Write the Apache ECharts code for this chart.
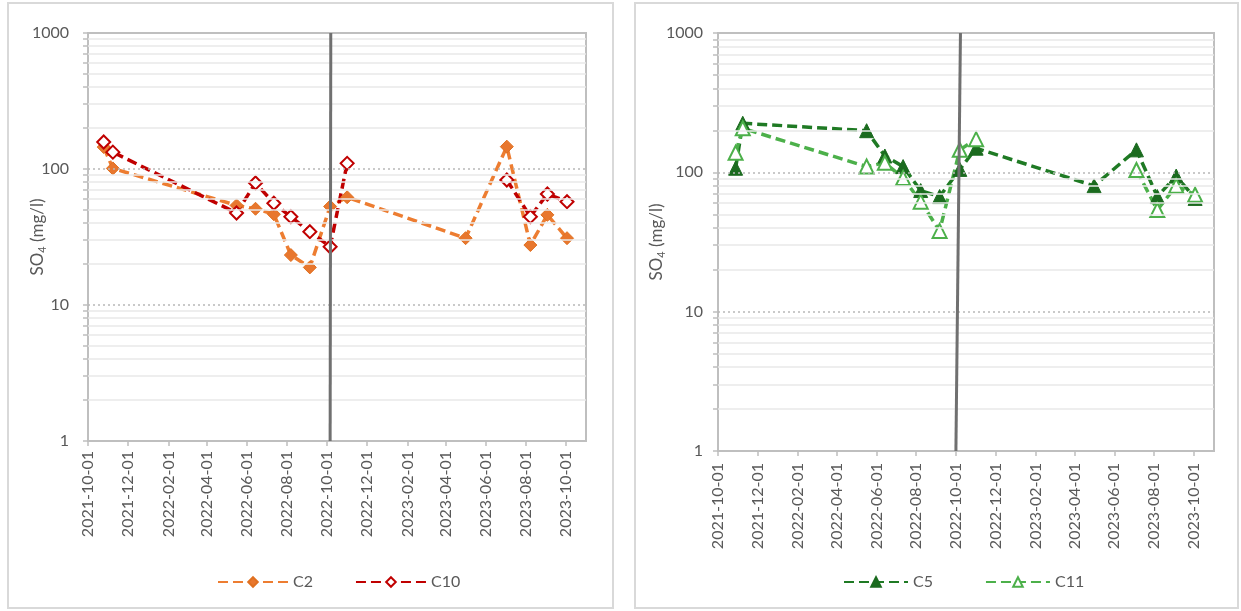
<!DOCTYPE html>
<html>
<head>
<meta charset="utf-8">
<script src="https://cdn.jsdelivr.net/npm/echarts@6/dist/echarts.min.js"></script>
<style>
  html, body { margin: 0; padding: 0; background: #ffffff; }
  #chart { width: 1241px; height: 611px; }
</style>
</head>
<body>
<div id="chart"></div>
<script>
// Sulphate (SO4, mg/l) sampling results, two station groups
const datesA = ['2021-10-25', '2021-11-08', '2022-05-16', '2022-06-14', '2022-07-12', '2022-08-07', '2022-09-05',
                '2022-10-06', '2022-11-01', '2023-05-01', '2023-07-03', '2023-08-08', '2023-09-03', '2023-10-03'];
const c2Values  = [145, 101, 54, 51, 46.5, 23.3, 18.9, 53, 62, 31, 146, 27.6, 46, 31];
const c10Values = [158, 133, 47.5, 79, 56, 44.6, 34.6, 26.8, 110, null, 83, 44.6, 65.5, 57.5];

const datesB = ['2021-10-28', '2021-11-08', '2022-05-17', '2022-06-14', '2022-07-12', '2022-08-08', '2022-09-06',
                '2022-10-07', '2022-11-01', '2023-05-01', '2023-07-05', '2023-08-06', '2023-09-04', '2023-10-03'];
const c5Values  = [107, 225, 199, 131, 110, 74, 67, 105, 149, 80, 145, 67, 94, 65];
const c11Values = [138, 207, 110, 117, 91, 61.6, 38, 145, 173, null, 104, 53.7, 80, 69];

// Axis ticks
const tickDates = ['2021-10-01', '2021-12-01', '2022-02-01', '2022-04-01', '2022-06-01', '2022-08-01', '2022-10-01',
                   '2022-12-01', '2023-02-01', '2023-04-01', '2023-06-01', '2023-08-01', '2023-10-01'];
const dateRange = ['2021-10-01', '2023-11-01'];
const yLabelValues = [1, 10, 100, 1000];
const yTickValues = [1, 2, 3, 4, 5, 6, 7, 8, 9, 10, 20, 30, 40, 50, 60, 70, 80, 90,
                     100, 200, 300, 400, 500, 600, 700, 800, 900, 1000];
const gridMajorValues = [10, 100];
const gridMinorValues = [2, 3, 4, 5, 6, 7, 8, 9, 20, 30, 40, 50, 60, 70, 80, 90,
                         200, 300, 400, 500, 600, 700, 800, 900];

// Divider marking the change on 2022-10 (start, end) in each panel
const dividerA = [['2022-10-07', 1000], ['2022-10-06', 1]];
const dividerB = [['2022-10-08', 1000], ['2022-10-01', 1]];

const FONT = 'Lato, "Noto Sans", sans-serif';
const TEXT = '#595959';
const AXIS_GREY = '#bfbfbf';

function toTime(s) {
  const p = s.split('-').map(Number);
  return new Date(p[0], p[1] - 1, p[2]).getTime();
}
const tickTimes = tickDates.map(toTime);

function fmtDate(v) {
  const d = new Date(v);
  const pad = n => (n < 10 ? '0' : '') + n;
  return d.getFullYear() + '-' + pad(d.getMonth() + 1) + '-' + pad(d.getDate());
}

function pairs(dates, values) {
  return dates.map((d, i) => [toTime(d), values[i]]);
}

function xAxisFor(i) {
  return {
    type: 'value', gridIndex: i, scale: true,
    min: toTime(dateRange[0]), max: toTime(dateRange[1]),
    axisLine: { show: false },
    splitLine: { show: false },
    axisTick: { show: true, length: 5, customValues: tickTimes, lineStyle: { color: AXIS_GREY, width: 1.5 } },
    axisLabel: {
      customValues: tickTimes, rotate: 90, margin: i === 0 ? 10 : 12,
      fontFamily: FONT, fontSize: 16, color: TEXT,
      formatter: v => fmtDate(v)
    }
  };
}

function yAxisFor(i) {
  return {
    type: 'log', logBase: 10, gridIndex: i, min: 1, max: 1000,
    name: 'SO{s|4} (mg/l)', nameLocation: 'middle', nameGap: i === 0 ? 40 : 51,
    nameMoveOverlap: false,
    nameTextStyle: {
      fontFamily: FONT, fontSize: 17, color: TEXT, lineHeight: 20,
      rich: {
        s: { fontFamily: FONT, fontSize: 11, color: TEXT, lineHeight: 14, verticalAlign: 'bottom' }
      }
    },
    axisLine: { show: false },
    splitLine: { show: false },
    axisTick: { show: true, length: 5, customValues: yTickValues, lineStyle: { color: AXIS_GREY, width: 1.5 } },
    axisLabel: {
      customValues: yLabelValues, margin: i === 0 ? 19 : 15, fontFamily: FONT, fontSize: 16, color: TEXT,
      formatter: v => String(v)
    }
  };
}

function gridLines(i) {
  return {
    type: 'line', xAxisIndex: i, yAxisIndex: i, data: [], z: 1, silent: true,
    markLine: {
      silent: true, symbol: ['none', 'none'], label: { show: false }, animation: false,
      emphasis: { disabled: true },
      data: gridMinorValues.map(v => ({ yAxis: v, lineStyle: { color: '#e8e8e8', width: 1.5, type: 'solid' } }))
        .concat(gridMajorValues.map(v => ({ yAxis: v, lineStyle: { color: '#b8b8b8', width: 1.5, type: [2, 3] } })))
    }
  };
}

function divider(i, seg) {
  return {
    type: 'line', xAxisIndex: i, yAxisIndex: i, data: [], z: 10, silent: true,
    markLine: {
      silent: true, symbol: ['none', 'none'], label: { show: false }, animation: false,
      emphasis: { disabled: true },
      lineStyle: { color: '#707070', width: 3, type: 'solid' },
      data: [[{ coord: [toTime(seg[0][0]), seg[0][1]] }, { coord: [toTime(seg[1][0]), seg[1][1]] }]]
    }
  };
}

function dataSeries(name, i, dates, values, opts) {
  return {
    name: name, type: 'line', xAxisIndex: i, yAxisIndex: i, z: 3,
    data: pairs(dates, values), connectNulls: false, animation: false,
    symbol: opts.symbol, symbolSize: opts.size,
    lineStyle: { color: opts.line, width: 3.5, type: [10, 5] },
    itemStyle: { color: opts.fill, borderColor: opts.border, borderWidth: opts.borderWidth }
  };
}

const legendText = { fontFamily: FONT, fontSize: 16, color: TEXT };

const option = {
  backgroundColor: '#ffffff',
  animation: false,
  graphic: [
    { type: 'rect', shape: { x: 8, y: 3, width: 605, height: 605 }, style: { fill: 'none', stroke: '#d9d9d9', lineWidth: 2 }, silent: true },
    { type: 'rect', shape: { x: 635, y: 3, width: 603, height: 605 }, style: { fill: 'none', stroke: '#d9d9d9', lineWidth: 2 }, silent: true }
  ],
  grid: [
    { left: 88, top: 33, width: 498, height: 408, show: true, borderColor: AXIS_GREY, borderWidth: 2, containLabel: false },
    { left: 718, top: 33, width: 496, height: 418, show: true, borderColor: AXIS_GREY, borderWidth: 2, containLabel: false }
  ],
  xAxis: [xAxisFor(0), xAxisFor(1)],
  yAxis: [yAxisFor(0), yAxisFor(1)],
  legend: [
    { data: ['C2', 'C10'], left: 217, top: 574, padding: 0, itemWidth: 70, itemHeight: 12, itemGap: 42, selectedMode: false, textStyle: legendText },
    { data: ['C5', 'C11'], left: 843, top: 574, padding: 0, itemWidth: 64, itemHeight: 12, itemGap: 52, selectedMode: false, textStyle: legendText }
  ],
  series: [
    gridLines(0),
    gridLines(1),
    dataSeries('C2', 0, datesA, c2Values, { symbol: 'diamond', size: 13, line: '#ED7D31', fill: '#E8772E', border: '#E07020', borderWidth: 1 }),
    dataSeries('C10', 0, datesA, c10Values, { symbol: 'diamond', size: 13, line: '#C00000', fill: '#ffffff', border: '#C00000', borderWidth: 2 }),
    dataSeries('C5', 1, datesB, c5Values, { symbol: 'triangle', size: 14, line: '#1F7A24', fill: '#1B6B1F', border: '#1B6B1F', borderWidth: 1 }),
    dataSeries('C11', 1, datesB, c11Values, { symbol: 'triangle', size: 14, line: '#4CB04A', fill: '#ffffff', border: '#4CB04A', borderWidth: 2 }),
    divider(0, dividerA),
    divider(1, dividerB)
  ]
};

const chart = echarts.init(document.getElementById('chart'), null, { renderer: 'canvas' });
chart.setOption(option);
</script>
</body>
</html>
